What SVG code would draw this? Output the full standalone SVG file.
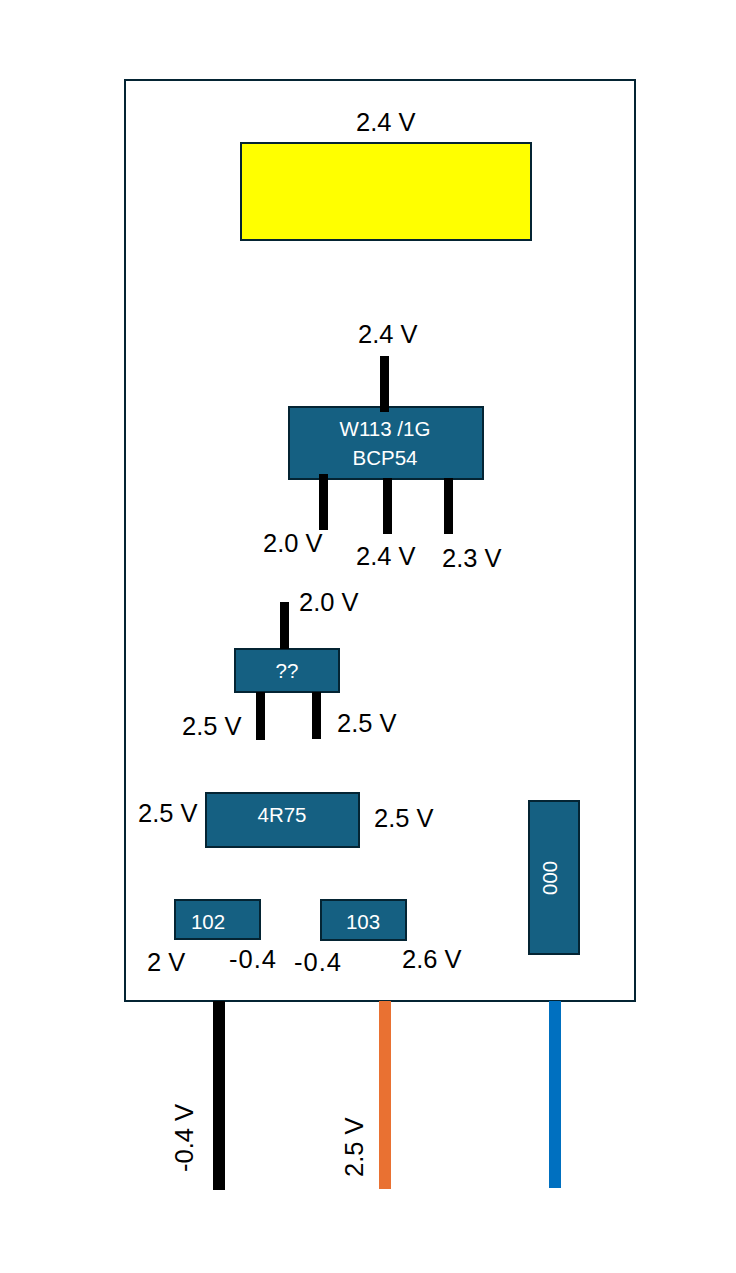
<svg xmlns="http://www.w3.org/2000/svg" width="736" height="1273" viewBox="0 0 736 1273">
<style>
.b{fill:#156082;stroke:#042433;stroke-width:2}
.l{font-family:"Liberation Sans",Arial,sans-serif;font-size:25.5px;fill:#000}
.w{font-family:"Liberation Sans",Arial,sans-serif;font-size:20.5px;fill:#fff;text-anchor:middle}
.p{fill:#000}
</style>
<rect width="736" height="1273" fill="#fff"/>
<g id="board"><rect x="125" y="80" width="510" height="921" fill="#fff" stroke="#042433" stroke-width="2"/></g>
<g id="battery"><rect x="241" y="143" width="290" height="97" fill="#ff0" stroke="#042433" stroke-width="2"/><text class="l" x="356" y="131">2.4 V</text></g>
<g id="u1"><rect class="b" x="289" y="407" width="194" height="72"/><text class="w" x="385" y="436">W113 /1G</text><text class="w" x="385" y="465">BCP54</text></g>
<g id="u2"><rect class="b" x="235" y="649" width="104" height="43"/><text class="w" x="287" y="678">??</text></g>
<g id="r4r75"><rect class="b" x="206" y="793" width="153" height="54"/><text class="w" x="282" y="822">4R75</text></g>
<g id="r102"><rect class="b" x="175" y="900" width="85" height="39"/><text class="w" x="208" y="929">102</text></g>
<g id="r103"><rect class="b" x="321" y="900" width="85" height="40"/><text class="w" x="363" y="929">103</text></g>
<g id="r000"><rect class="b" x="529" y="801" width="50" height="153"/><text class="w" transform="translate(543 878) rotate(90)" x="0" y="0">000</text></g>
<g id="connectors">
<rect class="p" x="380" y="356" width="9" height="56"/>
<rect class="p" x="319" y="474" width="9" height="56"/>
<rect class="p" x="383" y="478" width="9" height="56"/>
<rect class="p" x="444" y="478" width="9" height="56"/>
<rect class="p" x="280" y="602" width="9" height="47"/>
<rect class="p" x="256" y="692" width="9" height="48"/>
<rect class="p" x="312" y="692" width="9" height="47"/>
<rect x="213" y="1001" width="12" height="189" fill="#000"/>
<rect x="379" y="1001" width="12" height="188" fill="#e97132"/>
<rect x="549" y="1001" width="12" height="187" fill="#0070c0"/>
</g>
<g id="labels">
<text class="l" x="358" y="343">2.4 V</text>
<text class="l" x="263" y="552">2.0 V</text>
<text class="l" x="356" y="565">2.4 V</text>
<text class="l" x="442" y="567">2.3 V</text>
<text class="l" x="299" y="611">2.0 V</text>
<text class="l" x="182" y="735">2.5 V</text>
<text class="l" x="337" y="732">2.5 V</text>
<text class="l" x="138" y="822">2.5 V</text>
<text class="l" x="374" y="827">2.5 V</text>
<text class="l" x="147" y="971">2 V</text>
<text class="l" x="229" y="968" textLength="47">-0.4</text>
<text class="l" x="294" y="971" textLength="47">-0.4</text>
<text class="l" x="402" y="968">2.6 V</text>
<text class="l" transform="translate(193 1172) rotate(-90)">-0.4 V</text>
<text class="l" transform="translate(363 1177) rotate(-90)">2.5 V</text>
</g>
</svg>
